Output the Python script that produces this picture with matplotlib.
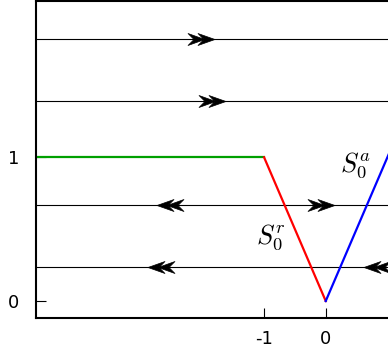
import numpy as np
import matplotlib
matplotlib.use("Agg")
import matplotlib.pyplot as plt
from matplotlib.path import Path

plt.rcParams['axes.unicode_minus'] = False
plt.rcParams['mathtext.fontset'] = 'cm'

# critical manifold pieces
green_x = [-5.0, -1.0]
green_y = [1.0, 1.0]
red_x = [-1.0, 0.0]
red_y = [1.0, 0.0]
blue_x = [0.0, 1.3]
blue_y = [0.0, 1.3]

# fast fibres and their arrows
fiber_y = [1.82, 1.39, 0.67, 0.24]
arrow_x = [-2.02, -1.85, -2.52, -0.07, -2.68, 0.83]
arrow_y = [1.82, 1.39, 0.67, 0.67, 0.24, 0.24]
arrow_dir = [1, 1, -1, 1, -1, -1]

xticks = [-1, 0]
yticks = [0, 1]

# double stealth arrowhead, pointing right
verts = np.array([(0, 0), (-17, 6), (-11.6, 0.5), (-27, 6), (-21, 0),
                  (-27, -6), (-11.6, -0.5), (-17, -6), (0, 0)])
verts[:, 0] += 13.5
codes = [Path.MOVETO] + [Path.LINETO] * 7 + [Path.CLOSEPOLY]
head_r = Path(verts, codes)
head_l = Path(verts * [-1, 1], codes)

fig = plt.figure(figsize=(3.88, 3.5), dpi=100)
ax = fig.add_axes([36 / 388, 32.3 / 350, 1 - 36 / 388, 1 - 32.3 / 350 - 0.002])

ax.hlines(fiber_y, -5, 2, color='black', lw=0.8, zorder=1)
ax.plot(green_x, green_y, color='#00a000', lw=1.6, zorder=2)
ax.plot(red_x, red_y, color='red', lw=1.6, zorder=2)
ax.plot(blue_x, blue_y, color='blue', lw=1.6, zorder=2)

for x, y, d in zip(arrow_x, arrow_y, arrow_dir):
    ax.plot(x, y, marker=head_r if d > 0 else head_l, ms=19.4,
            color='black', mec='black', mew=0.5, ls='none', zorder=3)

ax.text(0.49, 0.94, r'$S_0^a$', fontsize=19, ha='center', va='center')
ax.text(-0.89, 0.44, r'$S_0^r$', fontsize=19, ha='center', va='center')

ax.set_xlim(-4.70, 1.01)
ax.set_ylim(-0.116, 2.09)
ax.set_xticks(xticks)
ax.set_xticklabels([str(t) for t in xticks])
ax.set_yticks(yticks)
ax.set_yticklabels([str(t) for t in yticks])
ax.tick_params(direction='in', length=7, width=0.8, labelsize=13)
ax.tick_params(axis='x', pad=8.5)
ax.tick_params(axis='y', pad=12)
ax.spines['right'].set_visible(False)
for s in ['left', 'bottom', 'top']:
    ax.spines[s].set_linewidth(1.5)

fig.savefig('out.png', dpi=100)
